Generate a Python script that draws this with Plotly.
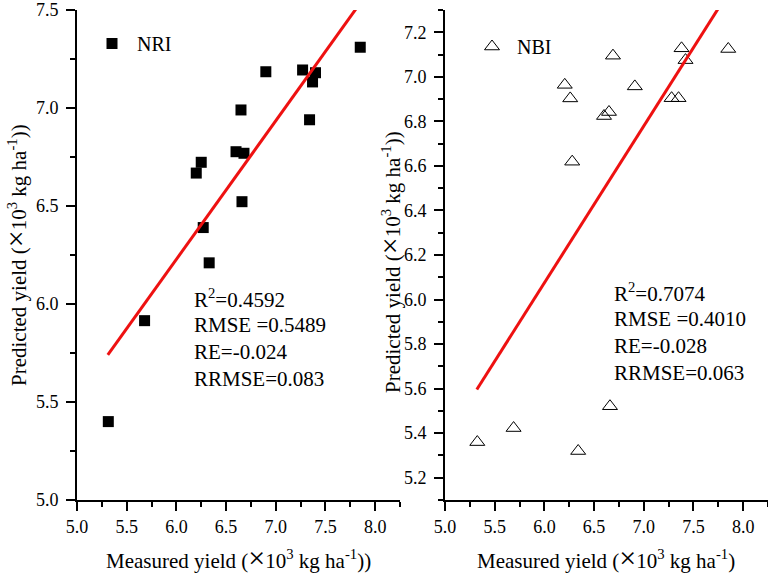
import plotly.graph_objects as go

# ---------------- data ----------------
nri_measured = [7.85, 6.90, 7.27, 7.40, 7.37, 6.65, 7.34, 6.60, 6.68, 6.25, 6.20, 6.66, 6.27, 6.33, 5.68, 5.315]
nri_predicted = [7.31, 7.185, 7.194, 7.18, 7.133, 6.99, 6.94, 6.777, 6.769, 6.723, 6.668, 6.522, 6.39, 6.21, 5.915, 5.40]

nbi_measured = [6.69, 7.38, 7.42, 7.85, 6.205, 6.26, 6.91, 6.60, 6.65, 7.28, 7.35, 6.28, 5.325, 5.69, 6.34, 6.66]
nbi_predicted = [7.095, 7.128, 7.075, 7.125, 6.964, 6.903, 6.957, 6.824, 6.842, 6.904, 6.904, 6.619, 5.36, 5.423, 5.32, 5.521]

# fitted lines (slope, intercept, x extent)
nri_fit_slope = 0.707
nri_fit_intercept = 1.986
nri_fit_x = [5.31, 7.85]

nbi_fit_slope = 0.704
nbi_fit_intercept = 1.851
nbi_fit_x = [5.32, 7.85]

nri_stats = ["R<sup>2</sup>=0.4592", "RMSE =0.5489", "RE=-0.024", "RRMSE=0.083"]
nbi_stats = ["R<sup>2</sup>=0.7074", "RMSE =0.4010", "RE=-0.028", "RRMSE=0.063"]

X_SIGN = "<span style='font-size:30px'>×</span>"
x_title = "Measured yield (" + X_SIGN + "10<sup>3</sup> kg ha<sup>-1</sup>))"
x_title_r = "Measured yield (" + X_SIGN + "10<sup>3</sup> kg ha<sup>-1</sup>)"
y_title = "Predicted yield (" + X_SIGN + "10<sup>3</sup> kg ha<sup>-1</sup>))"

# ---------------- figure ----------------
W, H = 768, 575
FONT = "Liberation Serif, Times New Roman, serif"

def px_x(p):
    return p / W

def px_y(p):
    return 1 - p / H

fig = go.Figure()

fig.add_trace(go.Scatter(
    x=nri_measured, y=nri_predicted, mode="markers", name="NRI",
    marker=dict(symbol="square", size=11, color="black"),
    xaxis="x", yaxis="y", legend="legend", cliponaxis=False))
fig.add_trace(go.Scatter(
    x=nri_fit_x, y=[nri_fit_intercept + nri_fit_slope * v for v in nri_fit_x],
    mode="lines", line=dict(color="#ee1111", width=3), showlegend=False,
    xaxis="x", yaxis="y"))

fig.add_trace(go.Scatter(
    x=nbi_measured, y=nbi_predicted, mode="markers", name="NBI",
    marker=dict(symbol="triangle-up-open", size=13, color="black", line=dict(width=1)),
    xaxis="x2", yaxis="y2", legend="legend2", cliponaxis=False))
fig.add_trace(go.Scatter(
    x=nbi_fit_x, y=[nbi_fit_intercept + nbi_fit_slope * v for v in nbi_fit_x],
    mode="lines", line=dict(color="#ee1111", width=3), showlegend=False,
    xaxis="x2", yaxis="y2"))

axis_common = dict(
    showline=True, linecolor="black", linewidth=2, mirror=False,
    showgrid=False, zeroline=False, automargin=False,
    ticks="outside", ticklen=9, tickwidth=2, tickcolor="black",
    tickfont=dict(family=FONT, size=18, color="black"),
)
minor_common = dict(ticks="outside", ticklen=5, tickwidth=2, tickcolor="black")

ydom = [px_y(500), px_y(10)]

fig.update_layout(
    width=W, height=H,
    margin=dict(l=0, r=0, t=0, b=0, autoexpand=False),
    paper_bgcolor="white", plot_bgcolor="white",
    font=dict(family=FONT, size=18, color="black"),
    xaxis=dict(domain=[px_x(77), px_x(400)], range=[5.0, 8.25], dtick=0.5, tick0=5.0,
               tickformat=".1f", anchor="y",
               minor=dict(dtick=0.25, **minor_common), **axis_common),
    yaxis=dict(domain=ydom, range=[5.0, 7.5], dtick=0.5, tick0=5.0, tickformat=".1f", anchor="x",
               ticklabelstandoff=4,
               minor=dict(dtick=0.25, **minor_common), **axis_common),
    xaxis2=dict(domain=[px_x(445), px_x(768)], range=[5.0, 8.25], dtick=0.5, tick0=5.0,
                tickformat=".1f", anchor="y2",
                minor=dict(dtick=0.25, **minor_common), **axis_common),
    yaxis2=dict(domain=ydom, range=[5.1, 7.3], dtick=0.2, tick0=5.0, tickformat=".1f", anchor="x2",
                ticklabelstandoff=4,
                minor=dict(dtick=0.1, **minor_common), **axis_common),
    legend=dict(x=px_x(87), y=px_y(24), xanchor="left", yanchor="top",
                bgcolor="rgba(0,0,0,0)", borderwidth=0, itemwidth=40,
                font=dict(family=FONT, size=20, color="black")),
    legend2=dict(x=px_x(467), y=px_y(27), xanchor="left", yanchor="top",
                 bgcolor="rgba(0,0,0,0)", borderwidth=0, itemwidth=40,
                 font=dict(family=FONT, size=20, color="black")),
    showlegend=True,
)

annotations = []
for i, t in enumerate(nri_stats):
    annotations.append(dict(text=t, x=px_x(192), y=px_y(298 + 27 * i), xref="paper", yref="paper",
                            xanchor="left", yanchor="middle", showarrow=False,
                            font=dict(family=FONT, size=21, color="black")))
for i, t in enumerate(nbi_stats):
    annotations.append(dict(text=t, x=px_x(612), y=px_y(292 + 27 * i), xref="paper", yref="paper",
                            xanchor="left", yanchor="middle", showarrow=False,
                            font=dict(family=FONT, size=21, color="black")))

annotations.append(dict(text=x_title, x=px_x(238), y=px_y(557), xref="paper", yref="paper",
                        xanchor="center", yanchor="middle", showarrow=False,
                        font=dict(family=FONT, size=21, color="black")))
annotations.append(dict(text=x_title_r, x=px_x(606), y=px_y(557), xref="paper", yref="paper",
                        xanchor="center", yanchor="middle", showarrow=False,
                        font=dict(family=FONT, size=21, color="black")))
annotations.append(dict(text=y_title, x=px_x(15), y=px_y(255), xref="paper", yref="paper",
                        xanchor="center", yanchor="middle", showarrow=False, textangle=-90,
                        font=dict(family=FONT, size=21, color="black")))
annotations.append(dict(text=y_title, x=px_x(389), y=px_y(262), xref="paper", yref="paper",
                        xanchor="center", yanchor="middle", showarrow=False, textangle=-90,
                        font=dict(family=FONT, size=21, color="black")))
fig.update_layout(annotations=annotations)

fig.write_html("out.html",
               config={"displayModeBar": False},
               post_script="document.body.style.margin='0';document.body.style.overflow='hidden';")
